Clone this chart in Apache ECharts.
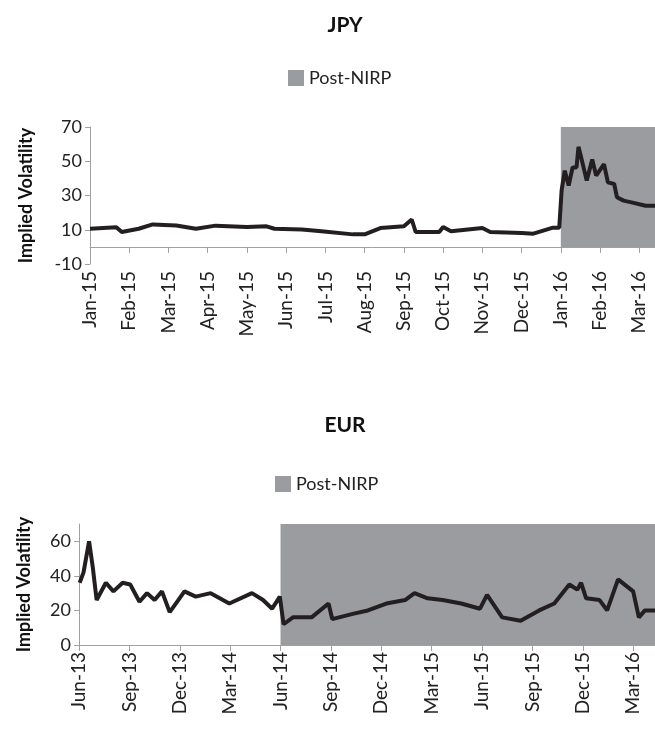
<!DOCTYPE html>
<html>
<head>
<meta charset="utf-8">
<script src="https://cdn.jsdelivr.net/npm/echarts@6/dist/echarts.min.js"></script>
<style>html,body{margin:0;background:#fff}#c{width:655px;height:736px}</style>
</head>
<body>
<div id="c"></div>
<script>
// JPY: months since Jan-15
const jpyMonths = [0,0.67,0.81,1.24,1.6,2.2,2.7,3.2,4.0,4.5,4.7,5.4,5.9,6.7,7.0,7.4,8.0,8.2,8.3,8.9,9.0,9.2,10.0,10.2,11.0,11.3,11.8,11.96,12.02,12.1,12.2,12.3,12.4,12.45,12.5,12.66,12.8,12.9,13.1,13.2,13.36,13.43,13.6,13.8,14.16,14.4];
const jpyVol = [10.6,11.5,8.7,10.6,13.1,12.5,10.6,12.4,11.6,12,10.6,10.2,9.1,7.3,7.3,11,12,16,8.7,8.7,11.6,9.1,11,8.7,8.1,7.7,11.2,11.2,33,44.5,35.8,46.4,46.4,58.4,54,38.7,51,41.6,48.3,37.7,36.7,29,27,26,24,24];
const jpyLabels = ['Jan-15','Feb-15','Mar-15','Apr-15','May-15','Jun-15','Jul-15','Aug-15','Sep-15','Oct-15','Nov-15','Dec-15','Jan-16','Feb-16','Mar-16'];

// EUR: months since Jun-13
const eurMonths = [0.04,0.27,0.6,0.82,1.05,1.6,2.05,2.6,3.05,3.6,4.05,4.5,4.94,5.4,5.84,6.28,6.95,7.84,8.95,10.3,10.96,11.5,11.96,12.18,12.74,13.85,14.86,15.08,16.3,17.2,18.3,19.42,19.98,20.76,21.65,22.76,23.88,24.3,25.2,26.3,27.4,28.3,29.2,29.67,29.9,30.2,31.0,31.45,32.1,33.0,33.34,33.7,34.3];
const eurVol = [36,42,60,45,26,36,31,36,35,25,30,26,31,19,25,31,28,30,24,30,26,21,28,12,16,16,24,15,18,20,24,26,30,27,26,24,21,29,16,14,20,24,35,32,36,27,26,20,38,31,16,20,20];
const eurLabels = ['Jun-13','Sep-13','Dec-13','Mar-14','Jun-14','Sep-14','Dec-14','Mar-15','Jun-15','Sep-15','Dec-15','Mar-16'];

const lineColor = '#231f20';
const shade = '#9b9ca0';
const axisGrey = '#a0a0a0';
const font = 'Lato, "DejaVu Sans", sans-serif';

function xAxisFor(idx, labels, step, max) {
  return {
    type: 'value', gridIndex: idx, min: 0, max: max, interval: step,
    axisLine: { lineStyle: { color: axisGrey } },
    axisTick: { show: true, length: 6, lineStyle: { color: axisGrey } },
    splitLine: { show: false },
    axisLabel: {
      rotate: 90, fontSize: 19, color: '#222', fontFamily: font, showMaxLabel: false, margin: 7,
      formatter: v => { const i = Math.round(v / step); return Math.abs(v / step - i) < 1e-6 ? (labels[i] || '') : ''; }
    }
  };
}
function yAxisFor(idx, min, max, step) {
  return {
    type: 'value', gridIndex: idx, min: min, max: max, interval: step,
    name: 'Implied Volatility', nameLocation: 'middle', nameGap: idx === 0 ? 55 : 46,
    nameTextStyle: { fontSize: 18, fontWeight: 'bold', color: '#111', fontFamily: font },
    axisLine: { show: true, lineStyle: { color: axisGrey } },
    axisTick: { show: true, lineStyle: { color: axisGrey } },
    splitLine: { show: false },
    axisLabel: { fontSize: 18, color: '#222', fontFamily: font, showMaxLabel: idx === 0 }
  };
}

const chart = echarts.init(document.getElementById('c'));
chart.setOption({
  animation: false,
  title: [
    { text: 'JPY', left: 340, top: 10, textAlign: 'center', textStyle: { fontSize: 21, fontWeight: 'bold', color: '#111', fontFamily: font } },
    { text: 'EUR', left: 340, top: 410, textAlign: 'center', textStyle: { fontSize: 21, fontWeight: 'bold', color: '#111', fontFamily: font } }
  ],
  legend: [
    { data: ['Post-NIRP'], left: 283, top: 64, icon: 'rect', itemWidth: 16, itemHeight: 16, textStyle: { fontSize: 18, color: '#222', fontFamily: font } },
    { data: ['Post-NIRP'], left: 270, top: 470, icon: 'rect', itemWidth: 16, itemHeight: 16, textStyle: { fontSize: 18, color: '#222', fontFamily: font } }
  ],
  grid: [
    { left: 90, right: 0, top: 127, height: 137 },
    { left: 79, right: 0, top: 524, height: 121 }
  ],
  xAxis: [xAxisFor(0, jpyLabels, 1, 14.4), xAxisFor(1, eurLabels, 3, 34.3)],
  yAxis: [yAxisFor(0, -10, 70, 20), yAxisFor(1, 0, 70, 20)],
  series: [
    { name: 'Post-NIRP', type: 'bar', data: [], xAxisIndex: 0, yAxisIndex: 0, itemStyle: { color: shade } },
    {
      name: 'JPY', type: 'line', xAxisIndex: 0, yAxisIndex: 0, symbol: 'none',
      lineStyle: { color: lineColor, width: 4 },
      data: jpyMonths.map((m, i) => [m, jpyVol[i]]),
      markArea: { silent: true, itemStyle: { color: shade }, data: [[{ xAxis: 12.0, yAxis: 0 }, { xAxis: 14.4, yAxis: 70 }]] }
    },
    {
      name: 'EUR', type: 'line', xAxisIndex: 1, yAxisIndex: 1, symbol: 'none',
      lineStyle: { color: lineColor, width: 4 },
      data: eurMonths.map((m, i) => [m, eurVol[i]]),
      markArea: { silent: true, itemStyle: { color: shade }, data: [[{ xAxis: 12.0, yAxis: 0 }, { xAxis: 34.3, yAxis: 70 }]] }
    }
  ]
});
</script>
</body>
</html>
